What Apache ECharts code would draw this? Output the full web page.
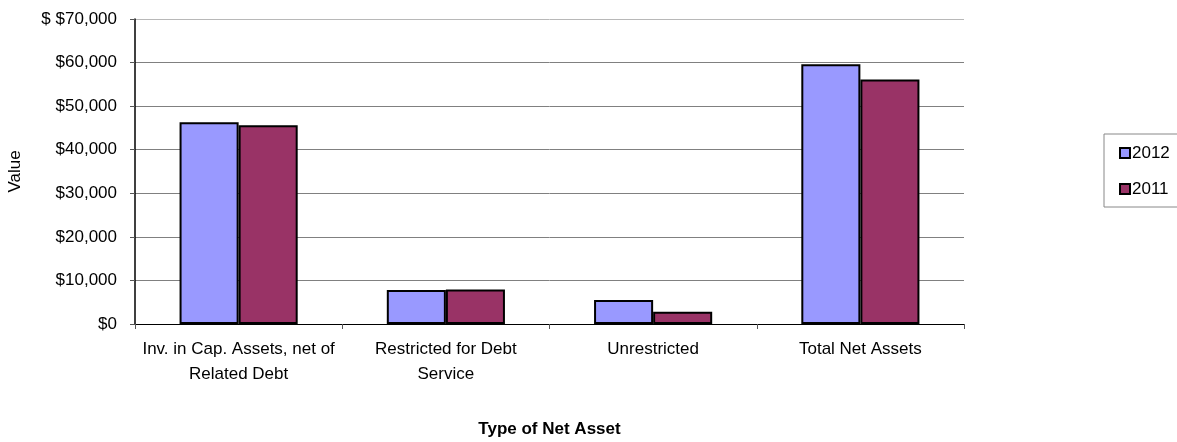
<!DOCTYPE html>
<html>
<head>
<meta charset="utf-8">
<script src="https://cdn.jsdelivr.net/npm/echarts@6/dist/echarts.min.js"></script>
<style>
html, body { margin: 0; padding: 0; background: #fff; }
#chart { width: 1177px; height: 442px; }
</style>
</head>
<body>
<div id="chart"></div>
<script>
// Net assets by type, fiscal 2012 vs 2011
const categories = [
  'Inv. in Cap. Assets, net of\nRelated Debt',
  'Restricted for Debt\nService',
  'Unrestricted',
  'Total Net Assets'
];
const seriesNames = ['2012', '2011'];
const values2012 = [46300, 7800, 5500, 59600];
const values2011 = [45600, 7900, 2800, 56100];
const yTicks = [0, 10000, 20000, 30000, 40000, 50000, 60000, 70000];
const colors = ['#9999ff', '#993366'];

const FONT = '"Liberation Sans", Arial, sans-serif';
const FS = 17;

function money(v) {
  const s = '$' + v.toLocaleString('en-US');
  return v === yTicks[yTicks.length - 1] ? '$ ' + s : s;
}

const chart = echarts.init(document.getElementById('chart'), null, { renderer: 'canvas' });

chart.setOption({
  animation: false,
  textStyle: { fontFamily: FONT, color: '#000' },
  grid: { left: 135, right: 213, top: 19, bottom: 118, containLabel: false, outerBoundsMode: 'none' },
  legend: {
    orient: 'vertical',
    left: 1104,
    top: 134,
    padding: [10, 40, 9, 15],
    itemGap: 18,
    itemWidth: 10,
    itemHeight: 10,
    borderColor: '#888',
    borderWidth: 1,
    borderRadius: 0,
    icon: 'rect',
    textStyle: { fontFamily: FONT, fontSize: FS, lineHeight: 18, color: '#000', padding: [0, 0, 0, -3] },
    itemStyle: { borderColor: '#000', borderWidth: 2 },
    data: seriesNames
  },
  xAxis: {
    type: 'category',
    data: categories,
    name: 'Type of Net Asset',
    nameLocation: 'middle',
    nameGap: 97,
    nameTextStyle: { fontFamily: FONT, fontSize: FS, fontWeight: 'bold', color: '#000' },
    axisLine: { lineStyle: { color: '#000', width: 1 } },
    axisTick: { show: true, length: 5, lineStyle: { color: '#555' } },
    axisLabel: { fontFamily: FONT, fontSize: FS, color: '#000', lineHeight: 25, margin: 13, interval: 0 }
  },
  yAxis: {
    type: 'value',
    min: 0,
    max: 70000,
    interval: 10000,
    name: 'Value',
    nameLocation: 'middle',
    nameGap: 111,
    nameRotate: 90,
    nameTextStyle: { fontFamily: FONT, fontSize: FS, color: '#000' },
    axisLine: { show: true, lineStyle: { color: '#000', width: 1.5 } },
    axisTick: { show: true, length: 5, lineStyle: { color: '#555' } },
    axisLabel: {
      fontFamily: FONT, fontSize: FS, color: '#000', margin: 18,
      formatter: money
    },
    splitLine: {
      show: true,
      lineStyle: { color: ['#808080', '#808080', '#808080', '#808080', '#808080', '#808080', '#808080', '#b8b8b8'], width: 1 }
    }
  },
  series: [
    {
      name: seriesNames[0],
      type: 'bar',
      data: values2012,
      barGap: '0%',
      barCategoryGap: '43%',
      itemStyle: { color: colors[0], borderColor: '#000', borderWidth: 2 }
    },
    {
      name: seriesNames[1],
      type: 'bar',
      data: values2011,
      barGap: '0%',
      barCategoryGap: '43%',
      itemStyle: { color: colors[1], borderColor: '#000', borderWidth: 2 }
    }
  ]
});
</script>
</body>
</html>
